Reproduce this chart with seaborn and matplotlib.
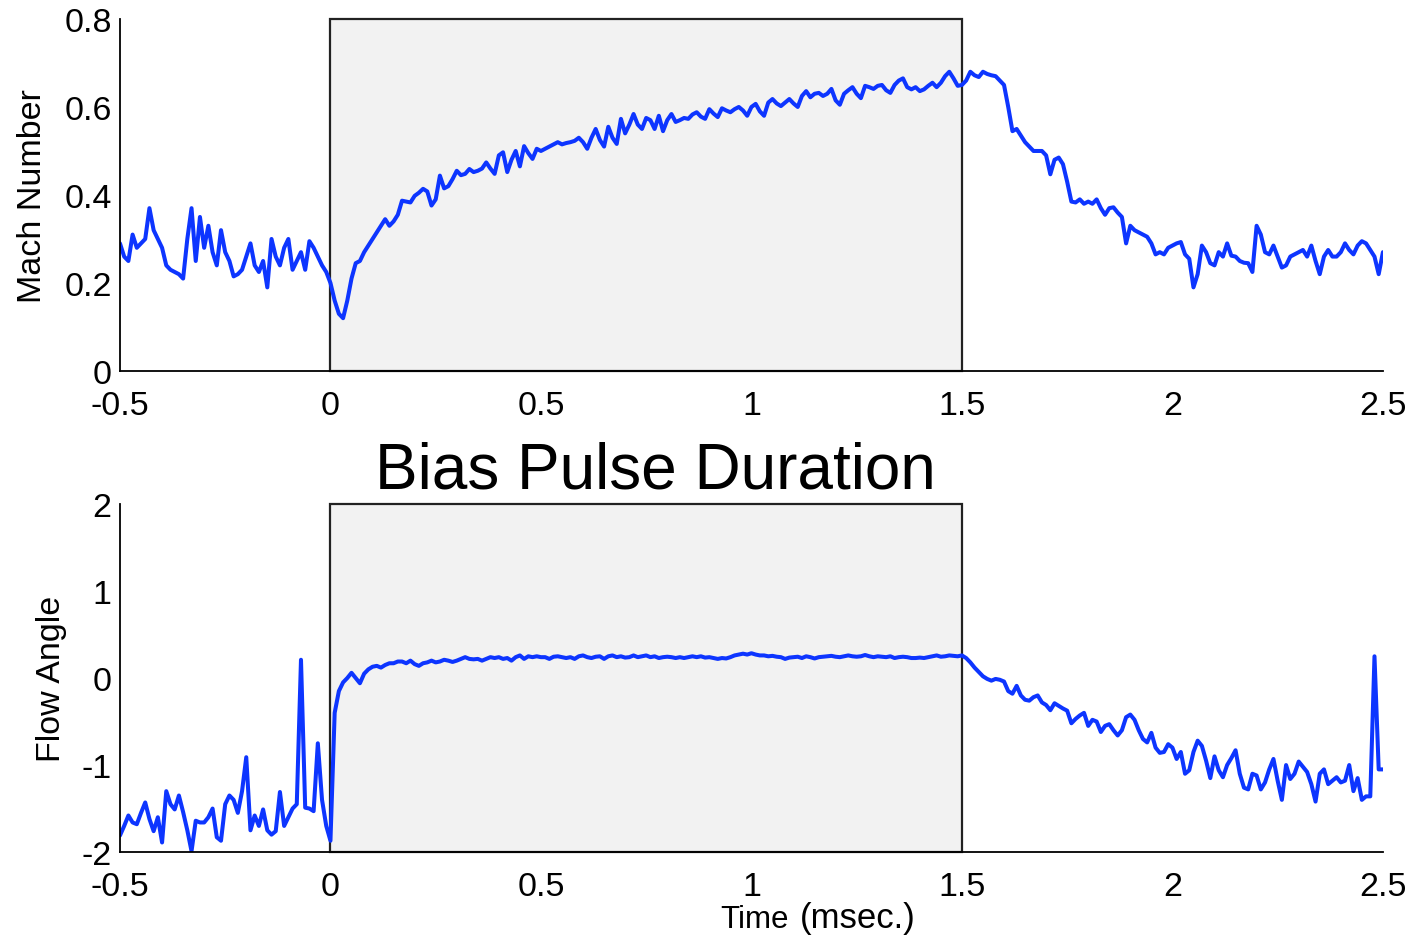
import numpy as np
import pandas as pd
import matplotlib
matplotlib.use("Agg")
import matplotlib.pyplot as plt
import seaborn as sns

# sample grid, 0.01 ms steps from -0.5 to 2.5 ms
t_start, t_step, n_samples = -0.5, 0.01, 301

mach = [
    0.29, 0.26, 0.25, 0.31, 0.28, 0.29, 0.30, 0.37, 0.32, 0.30,
    0.28, 0.24, 0.23, 0.225, 0.22, 0.21, 0.30, 0.37, 0.25, 0.35,
    0.28, 0.33, 0.27, 0.24, 0.32, 0.27, 0.25, 0.215, 0.22, 0.23,
    0.26, 0.29, 0.24, 0.225, 0.25, 0.19, 0.30, 0.26, 0.24, 0.28,
    0.30, 0.23, 0.25, 0.27, 0.23, 0.295, 0.28, 0.26, 0.24, 0.225,
    0.20, 0.16, 0.13, 0.12, 0.16, 0.21, 0.245, 0.25, 0.27, 0.285,
    0.30, 0.315, 0.33, 0.345, 0.33, 0.34, 0.355, 0.387, 0.385, 0.383,
    0.398, 0.405, 0.414, 0.408, 0.376, 0.39, 0.444, 0.415, 0.42, 0.436,
    0.455, 0.445, 0.448, 0.459, 0.452, 0.455, 0.46, 0.474, 0.46, 0.448,
    0.49, 0.497, 0.452, 0.48, 0.50, 0.465, 0.511, 0.495, 0.482, 0.505,
    0.50, 0.505, 0.51, 0.515, 0.52, 0.515, 0.518, 0.52, 0.523, 0.53,
    0.52, 0.505, 0.53, 0.55, 0.525, 0.51, 0.555, 0.53, 0.516, 0.573,
    0.54, 0.56, 0.584, 0.56, 0.55, 0.575, 0.57, 0.55, 0.58, 0.545,
    0.57, 0.584, 0.566, 0.57, 0.575, 0.573, 0.583, 0.588, 0.578, 0.573,
    0.595, 0.585, 0.577, 0.597, 0.592, 0.588, 0.595, 0.60, 0.592, 0.58,
    0.60, 0.607, 0.59, 0.58, 0.61, 0.618, 0.608, 0.602, 0.61, 0.618,
    0.608, 0.60, 0.625, 0.636, 0.622, 0.63, 0.632, 0.625, 0.63, 0.641,
    0.615, 0.605, 0.63, 0.638, 0.645, 0.63, 0.62, 0.648, 0.645, 0.641,
    0.648, 0.65, 0.638, 0.632, 0.65, 0.66, 0.665, 0.645, 0.64, 0.645,
    0.636, 0.64, 0.648, 0.655, 0.645, 0.655, 0.67, 0.68, 0.665, 0.648,
    0.65, 0.66, 0.68, 0.672, 0.668, 0.68, 0.675, 0.672, 0.67, 0.66,
    0.65, 0.60, 0.545, 0.55, 0.535, 0.52, 0.51, 0.50, 0.50, 0.50,
    0.49, 0.447, 0.48, 0.485, 0.47, 0.43, 0.385, 0.383, 0.39, 0.38,
    0.385, 0.38, 0.39, 0.37, 0.355, 0.37, 0.372, 0.36, 0.35, 0.29,
    0.33, 0.32, 0.315, 0.31, 0.305, 0.29, 0.265, 0.27, 0.265, 0.28,
    0.285, 0.29, 0.293, 0.265, 0.255, 0.19, 0.22, 0.285, 0.27, 0.245,
    0.24, 0.27, 0.26, 0.29, 0.262, 0.26, 0.25, 0.246, 0.245, 0.225,
    0.33, 0.31, 0.27, 0.265, 0.285, 0.26, 0.235, 0.24, 0.26, 0.265,
    0.27, 0.275, 0.26, 0.285, 0.25, 0.22, 0.26, 0.275, 0.26, 0.26,
    0.27, 0.29, 0.275, 0.265, 0.285, 0.295, 0.29, 0.275, 0.26, 0.22,
    0.27,
]

flow = [
    -1.81, -1.70, -1.58, -1.66, -1.68, -1.55, -1.43, -1.62, -1.76, -1.60,
    -1.89, -1.30, -1.45, -1.51, -1.35, -1.54, -1.75, -1.99, -1.64, -1.66,
    -1.66, -1.60, -1.50, -1.83, -1.87, -1.45, -1.35, -1.40, -1.55, -1.30,
    -0.91, -1.75, -1.58, -1.70, -1.51, -1.75, -1.80, -1.76, -1.31, -1.70,
    -1.60, -1.50, -1.45, 0.21, -1.49, -1.50, -1.53, -0.75, -1.40, -1.70,
    -1.87, -0.40, -0.15, -0.05, 0.0, 0.06, 0.0, -0.06, 0.05, 0.10,
    0.13, 0.14, 0.12, 0.15, 0.17, 0.17, 0.19, 0.19, 0.17, 0.20,
    0.16, 0.14, 0.17, 0.18, 0.20, 0.18, 0.19, 0.21, 0.20, 0.185,
    0.20, 0.22, 0.24, 0.22, 0.215, 0.22, 0.20, 0.22, 0.24, 0.23,
    0.24, 0.22, 0.23, 0.20, 0.24, 0.26, 0.22, 0.25, 0.24, 0.25,
    0.24, 0.24, 0.22, 0.245, 0.25, 0.24, 0.23, 0.24, 0.22, 0.25,
    0.26, 0.24, 0.23, 0.245, 0.25, 0.22, 0.25, 0.26, 0.24, 0.25,
    0.235, 0.24, 0.26, 0.24, 0.25, 0.26, 0.24, 0.25, 0.23, 0.24,
    0.245, 0.24, 0.23, 0.24, 0.23, 0.24, 0.25, 0.24, 0.25, 0.235,
    0.24, 0.23, 0.22, 0.23, 0.225, 0.24, 0.26, 0.27, 0.28, 0.27,
    0.285, 0.27, 0.26, 0.26, 0.25, 0.255, 0.245, 0.24, 0.22, 0.235,
    0.24, 0.245, 0.23, 0.25, 0.24, 0.225, 0.24, 0.245, 0.25, 0.255,
    0.245, 0.24, 0.25, 0.26, 0.25, 0.245, 0.25, 0.265, 0.25, 0.24,
    0.25, 0.245, 0.24, 0.25, 0.23, 0.24, 0.245, 0.24, 0.23, 0.23,
    0.235, 0.23, 0.24, 0.25, 0.26, 0.245, 0.25, 0.26, 0.255, 0.25,
    0.26, 0.23, 0.18, 0.12, 0.07, 0.02, -0.01, -0.03, -0.01, -0.02,
    -0.04, -0.15, -0.18, -0.09, -0.20, -0.25, -0.26, -0.22, -0.20, -0.28,
    -0.31, -0.37, -0.29, -0.32, -0.35, -0.375, -0.52, -0.47, -0.43, -0.40,
    -0.55, -0.48, -0.50, -0.62, -0.55, -0.53, -0.60, -0.66, -0.60, -0.45,
    -0.42, -0.48, -0.60, -0.70, -0.74, -0.63, -0.80, -0.86, -0.85, -0.76,
    -0.80, -0.93, -0.85, -1.10, -1.06, -0.85, -0.72, -0.78, -0.95, -1.15,
    -0.90, -1.06, -1.14, -1.00, -0.92, -0.83, -1.10, -1.26, -1.28, -1.10,
    -1.12, -1.28, -1.20, -1.05, -0.93, -1.18, -1.40, -1.00, -1.16, -1.10,
    -0.96, -1.02, -1.08, -1.22, -1.42, -1.10, -1.05, -1.22, -1.18, -1.14,
    -1.20, -1.18, -1.00, -1.30, -1.15, -1.40, -1.36, -1.36, 0.25, -1.05,
    -1.05,
]

pulse_start, pulse_end = 0.0, 1.5
x_ticks = [-0.5, 0, 0.5, 1, 1.5, 2, 2.5]
x_tick_labels = ["-0.5", "0", "0.5", "1", "1.5", "2", "2.5"]
mach_ticks = [0, 0.2, 0.4, 0.6, 0.8]
mach_tick_labels = ["0", "0.2", "0.4", "0.6", "0.8"]
flow_ticks = [-2, -1, 0, 1, 2]
flow_tick_labels = ["-2", "-1", "0", "1", "2"]


def main() -> None:
    time = np.round(t_start + t_step * np.arange(n_samples), 2)
    df = pd.DataFrame({"time": time, "mach": mach, "flow": flow})

    sns.set_style("white")
    plt.rcParams["font.family"] = ["Liberation Sans", "DejaVu Sans"]
    plt.rcParams["axes.unicode_minus"] = False
    plt.rcParams["text.color"] = "black"
    plt.rcParams["axes.labelcolor"] = "black"

    fig = plt.figure(figsize=(14.13, 9.37), dpi=100)
    ax1 = fig.add_axes([0.0849, 0.6030, 0.8938, 0.3757])
    ax2 = fig.add_axes([0.0849, 0.0896, 0.8938, 0.3714])

    line_color = "#0d35ff"
    panels = [
        (ax1, "mach", (0, 0.8), mach_ticks, mach_tick_labels, "Mach Number", -0.057),
        (ax2, "flow", (-2, 2), flow_ticks, flow_tick_labels, "Flow Angle", -0.042),
    ]
    for ax, col, ylim, yt, ytl, ylab, lab_x in panels:
        ax.axvspan(pulse_start, pulse_end, facecolor="#f2f2f2", edgecolor="#222222",
                   linewidth=1.6, zorder=0, clip_on=False)
        sns.lineplot(data=df, x="time", y=col, estimator=None, sort=False,
                     color=line_color, linewidth=2.9, ax=ax)
        ax.set_xlim(-0.5, 2.5)
        ax.set_ylim(*ylim)
        ax.set_xticks(x_ticks, labels=x_tick_labels)
        ax.set_yticks(yt, labels=ytl)
        ax.set_facecolor("white")
        sns.despine(ax=ax, top=True, right=True)
        for side in ("left", "bottom"):
            ax.spines[side].set_linewidth(1.3)
            ax.spines[side].set_color("black")
        ax.tick_params(axis="both", direction="in", length=7, width=1.2,
                       labelsize=24.5, colors="black")
        ax.tick_params(axis="x", pad=14)
        ax.tick_params(axis="y", pad=6)
        ax.set_xlabel("")
        ax.set_ylabel(ylab, fontsize=24.5, color="black")
        ax.yaxis.set_label_coords(lab_x, 0.5)

    fig.text(0.4636, 0.4965, "Bias Pulse Duration", fontsize=46,
             ha="center", va="center", color="black")
    fig.text(0.5096, 0.0096, "Time", fontsize=22.5, ha="left", va="baseline",
             fontweight="medium", color="black")
    fig.text(0.566, 0.0096, "(msec.)", fontsize=25, ha="left", va="baseline",
             color="black")

    fig.savefig("out.png", dpi=100)
    plt.close(fig)


if __name__ == "__main__":
    main()
